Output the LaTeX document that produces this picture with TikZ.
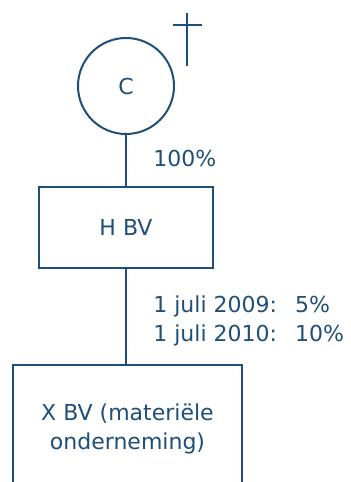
\documentclass[tikz,border=0pt]{standalone}
\usepackage{fontspec}
\setmainfont{DejaVu Sans}
\usepackage{xcolor}
\definecolor{donkerblauw}{RGB}{31,78,121}

\begin{document}
\begin{tikzpicture}[
    x=0.5pt, y=0.5pt,
    lijn/.style={draw=donkerblauw, line width=1pt},
    persoon/.style={circle, lijn, minimum size=48pt, inner sep=0pt, text=donkerblauw},
    bv/.style={rectangle, lijn, inner sep=0pt, text=donkerblauw, align=center},
    pct/.style={anchor=west, inner sep=0pt, text=donkerblauw},
    every node/.append style={font=\fontsize{11}{14.5}\selectfont}
]
  \useasboundingbox (0,0) rectangle (351,482);
  \clip (0,0) rectangle (351,482);

  % entiteiten
  \node[persoon] (c) at (126,396) {C};
  \node[bv, minimum width=87pt, minimum height=40.5pt] (hbv) at (126,254.5) {H BV};
  \node[bv, minimum width=114.5pt, minimum height=62pt, text depth=0pt] (xbv) at (127.5,55)
    {X BV (materiële\\onderneming)};

  % kruis bij C
  \coordinate (kb) at (187,469);
  \coordinate (ko) at (187,416);
  \coordinate (kl) at (173,457);
  \coordinate (kr) at (202,457);
  \draw[lijn] (kb) -- (ko);
  \draw[lijn] (kl) -- (kr);

  % deelnemingen
  \draw[lijn] (c) -- (hbv);
  \draw[lijn] (hbv.south) -- (hbv.south |- xbv.north);
  \node[pct] (p1) at (153,324) {100\%};
  \node[pct] (p2) at (153,160.5) {%
    \begin{tabular}{@{}l@{\hspace{9pt}}l@{}}
      1 juli 2009: & 5\% \\
      1 juli 2010: & 10\%
    \end{tabular}};
\end{tikzpicture}
\end{document}
